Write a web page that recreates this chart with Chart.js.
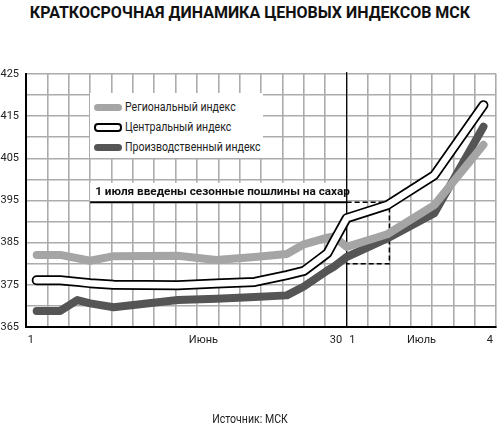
<!DOCTYPE html>
<html lang="ru">
<head>
<meta charset="utf-8">
<script src="https://cdn.jsdelivr.net/npm/chart.js@4.4.1/dist/chart.umd.min.js"></script>
<style>
  html, body { margin: 0; padding: 0; background: #fff; }
  body { width: 500px; height: 426px; position: relative; overflow: hidden; font-family: Roboto, sans-serif; }
  #title { position: absolute; top: 3px; left: 0; width: 500px; text-align: center; font-weight: 700; font-size: 16px; color: #111; }
  #chart-wrap { position: absolute; left: 0; top: 0; width: 500px; height: 426px; }
  #legend { position: absolute; left: 90px; top: 93px; width: 173px; height: 65px; background: #fff; }
  .legend-item { position: absolute; left: 4px; height: 14px; display: flex; align-items: center; font-size: 12px; color: #222; white-space: nowrap; }
  .legend-item .txt { display: inline-block; transform: scaleX(0.88); transform-origin: left center; }
  .swatch { width: 28px; height: 7px; border-radius: 4px; margin-right: 3px; box-sizing: border-box; }
  #source { position: absolute; top: 412px; left: 0; width: 500px; text-align: center; font-size: 12px; color: #222; }
  #source span { display: inline-block; transform: scaleX(0.88); }
</style>
</head>
<body>
<div id="title">КРАТКОСРОЧНАЯ ДИНАМИКА ЦЕНОВЫХ ИНДЕКСОВ МСК</div>
<div id="chart-wrap"><canvas id="indexChart" width="500" height="426"></canvas></div>
<div id="legend">
  <div class="legend-item" style="top:7px"><span class="swatch" style="background:#a5a5a5"></span><span class="txt">Региональный индекс</span></div>
  <div class="legend-item" style="top:27px"><span class="swatch" style="background:#fff;border:2px solid #000;height:9px"></span><span class="txt">Центральный индекс</span></div>
  <div class="legend-item" style="top:47px"><span class="swatch" style="background:#555"></span><span class="txt">Производственный индекс</span></div>
</div>
<div id="source"><span>Источник: МСК</span></div>

<script>
// Data (x = position on the broken June/July time axis)
const dayPos = [0.5, 1.6, 2.4, 3.0, 4.1, 7.1, 8.9, 10.7, 12.2, 13.0, 14.1, 14.4, 15.0, 16.9, 19.1, 21.4];
const regional = [382.1, 382.1, 381.3, 380.7, 381.8, 381.9, 380.9, 381.6, 382.3, 384.6, 386.2, 386.5, 384.0, 387.0, 393.9, 408.2];
const central = [376.1, 376.1, 375.7, 375.4, 375.0, 374.9, 375.3, 375.7, 377.3, 378.3, 382.5, 385.3, 390.8, 393.9, 401.0, 417.6];
const production = [368.8, 368.8, 371.4, 370.6, 369.7, 371.4, 371.7, 372.1, 372.5, 374.6, 378.4, 379.3, 381.6, 386.0, 392.0, 412.5];

const xTickPos = [0.23, 8.3, 14.5, 15.27, 18.5, 21.7];
const xTickLabels = ["1", "Июнь", "30", "1", "Июль", "4"];

// Annotation: 1 July tariff
const tariffDay = 15;
const noteText = "1 июля введены сезонные пошлины на сахар";
const noteStart = 3;
const noteBase = 394.6;
const noteTop = 399.2;
const boxEnd = 17;
const boxBottom = 380;

const gridColor = "#acacac";

function toPoints(values) {
  return values.map((v, i) => ({ x: dayPos[i], y: v }));
}

function lineDataset(label, values, color, width, order) {
  return {
    label: label,
    data: toPoints(values),
    borderColor: color,
    borderWidth: width,
    borderCapStyle: "round",
    borderJoinStyle: "round",
    pointRadius: 0,
    tension: 0,
    fill: false,
    order: order,
  };
}

// Draws the tariff marker, note text and dashed box under the lines
const tariffPlugin = {
  id: "tariff",
  beforeDatasetsDraw(chart) {
    const { ctx, chartArea, scales } = chart;
    const x = scales.x;
    const y = scales.y;
    const lineX = x.getPixelForValue(tariffDay);
    const left = x.getPixelForValue(noteStart);
    const top = y.getPixelForValue(noteTop);
    const base = y.getPixelForValue(noteBase);
    const right = x.getPixelForValue(boxEnd);
    const bottom = y.getPixelForValue(boxBottom);

    ctx.save();
    ctx.fillStyle = "#fff";
    ctx.fillRect(left, top, lineX - left, base - top + 1);

    ctx.strokeStyle = "#000";
    ctx.lineWidth = 1.2;
    ctx.beginPath();
    ctx.moveTo(lineX, chartArea.top - 2);
    ctx.lineTo(lineX, chartArea.bottom);
    ctx.stroke();

    ctx.lineWidth = 2;
    ctx.beginPath();
    ctx.moveTo(left, base);
    ctx.lineTo(lineX, base);
    ctx.stroke();

    ctx.lineWidth = 1.5;
    ctx.setLineDash([5, 3]);
    ctx.beginPath();
    ctx.moveTo(lineX, base);
    ctx.lineTo(right, base);
    ctx.lineTo(right, bottom);
    ctx.lineTo(lineX, bottom);
    ctx.stroke();
    ctx.setLineDash([]);

    ctx.fillStyle = "#111";
    ctx.font = "bold 11.75px Roboto, sans-serif";
    ctx.textBaseline = "middle";
    ctx.fillText(noteText, left + 5, (top + base) / 2);
    ctx.restore();
  },
};

function initChart() {
  const ctx = document.getElementById("indexChart").getContext("2d");
  new Chart(ctx, {
    type: "line",
    data: {
      datasets: [
        lineDataset("Центральный индекс", central, "#ffffff", 6.5, 1),
        lineDataset("Центральный индекс", central, "#000000", 10, 2),
        lineDataset("Региональный индекс", regional, "#a5a5a5", 8, 3),
        lineDataset("Производственный индекс", production, "#555555", 8, 4),
      ],
    },
    options: {
      responsive: false,
      animation: false,
      layout: { padding: { top: 74, left: 0, right: 0, bottom: 79 } },
      plugins: { legend: { display: false }, tooltip: { enabled: false } },
      scales: {
        x: {
          type: "linear",
          min: 0,
          max: 22,
          position: "bottom",
          ticks: { stepSize: 1, display: false },
          grid: { color: gridColor, lineWidth: 1.6, drawTicks: false },
          border: { color: "#000", width: 2 },
          afterFit: (axis) => { axis.height = 0; },
        },
        x2: {
          type: "linear",
          min: 0,
          max: 22,
          position: "bottom",
          grid: { display: false, drawTicks: false },
          border: { display: false },
          afterBuildTicks: (axis) => {
            axis.ticks = xTickPos.map((v) => ({ value: v }));
          },
          afterFit: (axis) => { axis.height = 20; },
          ticks: {
            autoSkip: false,
            maxRotation: 0,
            padding: 7,
            color: "#222",
            font: { family: "Roboto", size: 11 },
            callback: (value, index) => xTickLabels[index],
          },
        },
        y: {
          min: 365,
          max: 425,
          afterFit: (axis) => { axis.width = 26; },
          ticks: {
            stepSize: 5,
            padding: 7,
            color: "#222",
            font: { family: "Roboto", size: 11 },
            callback: (v) => ((v - 365) % 10 === 0 ? v : ""),
          },
          grid: { color: gridColor, lineWidth: 1.6, drawTicks: false },
          border: { color: "#000", width: 2 },
        },
      },
    },
    plugins: [tariffPlugin],
  });
}

document.addEventListener("DOMContentLoaded", initChart);
</script>
</body>
</html>
